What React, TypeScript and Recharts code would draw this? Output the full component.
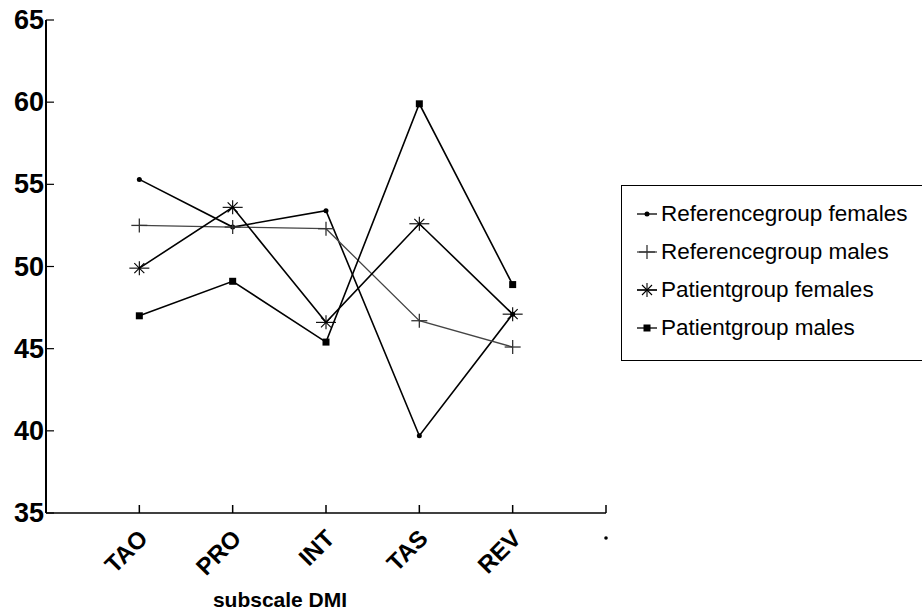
import React from 'react';
import { LineChart, Line, XAxis, YAxis, Legend } from 'recharts';

const subscales = ['TAO', 'PRO', 'INT', 'TAS', 'REV'];
const refFemales = [55.3, 52.4, 53.4, 39.7, 47.1];
const refMales = [52.5, 52.4, 52.3, 46.7, 45.1];
const patFemales = [49.9, 53.6, 46.6, 52.6, 47.1];
const patMales = [47.0, 49.1, 45.4, 59.9, 48.9];
const yTicks = [35, 40, 45, 50, 55, 60, 65];
const xTicks = [1, 2, 3, 4, 5, 6];

const FONT = '"Liberation Sans", Arial, Helvetica, sans-serif';

const data = subscales.map((name, i) => ({
    x: i + 1,
    name,
    refFemales: refFemales[i],
    refMales: refMales[i],
    patFemales: patFemales[i],
    patMales: patMales[i],
}));

type Mk = 'dot' | 'plus' | 'star' | 'square';

const drawMarker = (kind: Mk, cx: number, cy: number, key?: string) => {
    switch (kind) {
        case 'dot':
            return <circle key={key} cx={cx} cy={cy} r={2.5} fill="#000" />;
        case 'plus':
            return (
                <g key={key} stroke="#333" strokeWidth={1.3}>
                    <line x1={cx - 8} y1={cy} x2={cx + 8} y2={cy} />
                    <line x1={cx} y1={cy - 7} x2={cx} y2={cy + 7} />
                </g>
            );
        case 'star':
            return (
                <g key={key} stroke="#000" strokeWidth={1.1}>
                    <line x1={cx - 10} y1={cy} x2={cx + 10} y2={cy} />
                    <line x1={cx} y1={cy - 7} x2={cx} y2={cy + 7} />
                    <line x1={cx - 5} y1={cy - 5} x2={cx + 5} y2={cy + 5} />
                    <line x1={cx - 5} y1={cy + 5} x2={cx + 5} y2={cy - 5} />
                </g>
            );
        default:
            return <rect key={key} x={cx - 3.5} y={cy - 3.5} width={7} height={7} fill="#000" />;
    }
};

const makeDot = (kind: Mk) => (props: any) => {
    const { cx, cy, index } = props;
    return drawMarker(kind, cx, cy, `${kind}-${index}`);
};

const SERIES: { key: string; label: string; kind: Mk; color: string; width: number }[] = [
    { key: 'refFemales', label: 'Referencegroup females', kind: 'dot', color: '#000', width: 1.6 },
    { key: 'refMales', label: 'Referencegroup males', kind: 'plus', color: '#444', width: 1.3 },
    { key: 'patFemales', label: 'Patientgroup females', kind: 'star', color: '#000', width: 1.6 },
    { key: 'patMales', label: 'Patientgroup males', kind: 'square', color: '#000', width: 1.6 },
];

const YTick = ({ x, y, payload }: any) => (
    <g>
        <line x1={x} y1={y} x2={x + 8} y2={y} stroke="#000" strokeWidth={1.2} />
        <text x={x - 2} y={y} dy={9} textAnchor="end" fontFamily={FONT} fontWeight="bold" fontSize={27} fill="#000">
            {payload.value}
        </text>
    </g>
);

const XTick = ({ x, y, payload }: any) => {
    const i = payload.value - 1;
    if (i >= subscales.length) {
        return (
            <g>
                <line x1={x} y1={y} x2={x} y2={y - 8} stroke="#000" strokeWidth={1.5} />
                <circle cx={x} cy={y + 25} r={1.8} fill="#000" />
            </g>
        );
    }
    const ax = x + 10;
    const ay = y + 27;
    return (
        <g>
            <line x1={x} y1={y} x2={x} y2={y - 8} stroke="#000" strokeWidth={1.5} />
            <text
                x={ax}
                y={ay}
                textAnchor="end"
                transform={`rotate(-45, ${ax}, ${ay})`}
                fontFamily={FONT}
                fontWeight="bold"
                fontSize={24}
                fill="#000"
            >
                {subscales[i]}
            </text>
        </g>
    );
};

const LegendBox = () => (
    <div
        style={{
            border: '1.5px solid #000',
            borderRight: 'none',
            padding: '9px 0 13px 14px',
            fontFamily: FONT,
            fontSize: 22.5,
            color: '#000',
            background: '#fff',
        }}
    >
        {SERIES.map((s) => (
            <div key={s.key} style={{ height: 38, display: 'flex', alignItems: 'center', whiteSpace: 'nowrap' }}>
                <svg width={24} height={20} style={{ marginRight: 1 }}>
                    <line x1={1} y1={10} x2={21} y2={10} stroke={s.color} strokeWidth={1.3} />
                    {drawMarker(s.kind, 11, 10)}
                </svg>
                <span>{s.label}</span>
            </div>
        ))}
    </div>
);

export default function App() {
    return (
        <div style={{ position: 'absolute', left: 0, top: 0, width: 922, height: 611, background: '#fff' }}>
            <LineChart width={922} height={611} data={data} margin={{ top: 20, right: 316, left: 0, bottom: 0 }}>
                <XAxis
                    type="number"
                    dataKey="x"
                    domain={[0, 6]}
                    ticks={xTicks}
                    interval={0}
                    height={98}
                    tickSize={0}
                    tickMargin={0}
                    tickLine={false}
                    tick={<XTick />}
                    axisLine={{ stroke: '#000', strokeWidth: 1.5 }}
                    label={{
                        value: 'subscale DMI',
                        position: 'insideBottom',
                        offset: 4,
                        dx: -46,
                        style: { fontFamily: FONT, fontWeight: 'bold', fontSize: 21, fill: '#000' },
                    }}
                />
                <YAxis
                    type="number"
                    domain={[35, 65]}
                    ticks={yTicks}
                    width={46}
                    tickSize={0}
                    tickMargin={0}
                    tickLine={false}
                    tick={<YTick />}
                    axisLine={{ stroke: '#000', strokeWidth: 2 }}
                />
                <Legend
                    layout="horizontal"
                    verticalAlign="middle"
                    align="center"
                    content={<LegendBox />}
                    wrapperStyle={{ position: 'absolute', left: 621, top: 185, width: 301, margin: 0 }}
                />
                {SERIES.map((s) => (
                    <Line
                        key={s.key}
                        type="linear"
                        dataKey={s.key}
                        name={s.label}
                        stroke={s.color}
                        strokeWidth={s.width}
                        dot={makeDot(s.kind)}
                        activeDot={false}
                        isAnimationActive={false}
                    />
                ))}
            </LineChart>
        </div>
    );
}
